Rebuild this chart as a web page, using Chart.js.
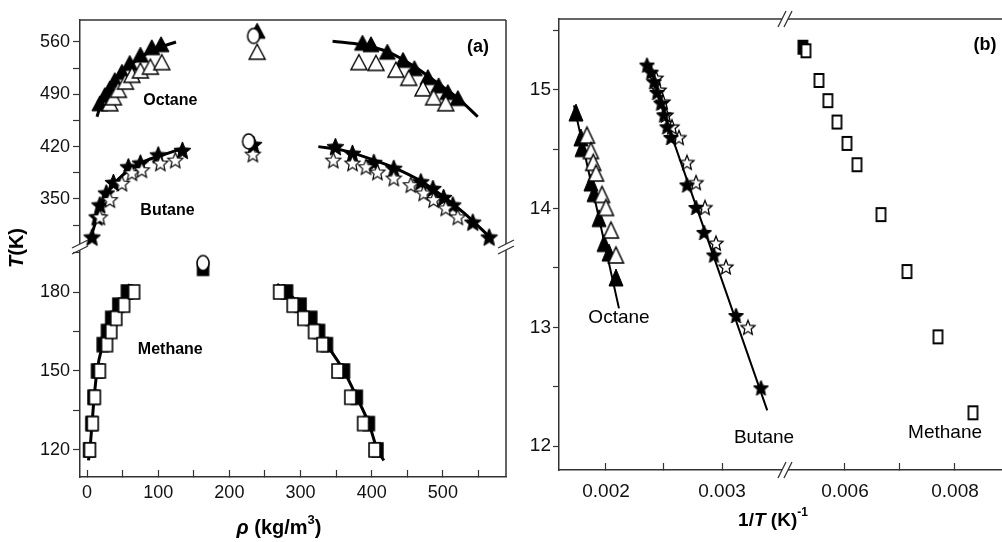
<!DOCTYPE html>
<html>
<head>
<meta charset="utf-8">
<script src="https://cdn.jsdelivr.net/npm/chart.js@4/dist/chart.umd.min.js"></script>
<style>
  html, body { margin: 0; padding: 0; background: #fff; overflow: hidden; width: 1002px; height: 542px; }
  #wrapA { position: absolute; left: 0; top: 0; }
  #wrapB { position: absolute; left: 500px; top: 0; }
</style>
</head>
<body>
<div id="wrapA"><canvas id="chartA" width="515" height="542"></canvas></div>
<div id="wrapB"><canvas id="chartB" width="520" height="542"></canvas></div>
<script>
// ---- Panel (a): density rho (kg/m3) vs T (K) ----
const octaneFilledA = [[18,478],[25,489],[32,498],[39,509],[49,520],[60,532],[75,543],[91,553],[104,557],
  [387,559],[399,557],[422,547],[444,536],[460,525],[479,513],[494,502],[507,493],[521,485]];
const octaneOpenA = [[32,478],[37,486],[44,496],[54,507],[63,516],[75,522],[89,527],[105,533],
  [382,533],[406,532],[434,523],[452,512],[472,498],[487,486],[504,478]];
const octaneFitLA = [[14,460],[18,472],[25,487],[35,503],[50,520],[70,536],[95,550],[125,560]];
const octaneFitRA = [[345,561],[387,556],[422,547],[460,527],[494,504],[521,485],[549,460]];

const butaneFilledA = [[7,299],[14,326],[18,342],[27,358],[37,372],[58,393],[75,398],[100,409],[134,415],
  [349,420],[373,411],[403,399],[431,391],[469,373],[486,364],[501,352],[514,342],[542,319],[565,299]];
const butaneOpenA = [[18,326],[32,349],[49,371],[63,385],[77,389],[103,398],[124,402],
  [346,402],[373,398],[392,393],[408,386],[431,378],[455,369],[473,358],[487,349],[504,338],[521,326]];
const butaneFitLA = [[4,294],[10,313],[18,336],[30,360],[50,382],[80,400],[110,410],[135,418]];
const butaneFitRA = [[325,420],[360,415],[403,402],[431,392],[469,374],[501,353],[530,331],[568,297]];

const methaneOpenA = [[4,120],[8,130],[11,140],[18,150],[28,160],[34,165],[41,170],[52,175],[66,180],
  [270,180],[289,175],[304,170],[319,165],[331,160],[352,150],[370,140],[388,130],[404,120]];
const methaneFilledA = [[3,120],[6,130],[9,140],[14,150],[22,160],[28,165],[34,170],[44,175],[56,180],
  [281,180],[300,175],[315,170],[326,165],[337,160],[361,150],[379,140],[396,130],[408,120]];
const methaneFitLA = [[2,116],[4,120],[7,130],[10,140],[14,150],[22,160],[28,165],[34,170],[44,175],[56,180],[60,183]];
const methaneFitRA = [[267,183],[281,180],[300,175],[315,170],[326,165],[337,160],[361,150],[379,140],[396,130],[408,120],[417,116]];

// critical points
const critCircleTopA = [[234,568],[227,427]];
const critCircleBotA = [[163,191]];
const critFilledTriA = [[239,575]];
const critOpenTriA = [[239,547]];
const critFilledStarA = [[234,423]];
const critOpenStarA = [[233,410]];
const critSquareA = [[163,189]];

const xTicksA = [0, 50, 100, 150, 200, 250, 300, 350, 400, 450, 500, 550];
const xLabelsA = [0, 100, 200, 300, 400, 500];
const yTopTicksA = [315, 350, 385, 420, 455, 490, 525, 560];
const yTopLabelsA = [350, 420, 490, 560];
const yBotTicksA = [120, 135, 150, 165, 180, 195];
const yBotLabelsA = [120, 150, 180];

// ---- Panel (b): 1/T vs ln ----
const octaneFilledB = [[0.001741,14.81],[0.001784,14.60],[0.001793,14.51],[0.00187,14.22],[0.001897,14.13],
  [0.00194,13.92],[0.001983,13.71],[0.002026,13.63],[0.002086,13.42]];
const octaneOpenB = [[0.001836,14.62],[0.00187,14.49],[0.00189,14.39],[0.001914,14.30],[0.001966,14.12],
  [0.002,14.01],[0.002043,13.82],[0.002086,13.61]];
const octaneFitB = [[0.001724,14.87],[0.002112,13.16]];
const butaneFilledB = [[0.002353,15.21],[0.002388,15.15],[0.002414,15.07],[0.00244,14.98],[0.002474,14.89],
  [0.0025,14.79],[0.002526,14.69],[0.00256,14.60],[0.002698,14.20],[0.002776,14.01],[0.002845,13.80],
  [0.00293,13.61],[0.003121,13.10],[0.003336,12.49]];
const butaneOpenB = [[0.002431,15.10],[0.002457,15.00],[0.002491,14.90],[0.002517,14.79],[0.002569,14.69],
  [0.002629,14.60],[0.002698,14.39],[0.002776,14.22],[0.002853,14.01],[0.002948,13.71],[0.003034,13.51],[0.003224,13.00]];
const butaneFitB = [[0.00235,15.22],[0.00339,12.30]];
const methaneOpenB = [[0.005291,15.33],[0.005527,15.08],[0.00569,14.91],[0.005855,14.73],[0.006036,14.55],
  [0.006218,14.37],[0.006655,13.95],[0.007127,13.47],[0.007691,12.92],[0.008327,12.28]];
const methaneFilledB = [[0.005236,15.36]];

const xLTicksB = [0.002, 0.0025, 0.003];
const xRTicksB = [0.006, 0.007, 0.008];
const xLabelsB = ['0.002', '0.003', '0.006', '0.008'];
const yTicksB = [12, 12.5, 13, 13.5, 14, 14.5, 15, 15.5];
const yLabelsB = [12, 13, 14, 15];

const FAM = "'Liberation Sans', Arial, sans-serif";
const INK = '#111';
const AXIS = '#333';

// build a small bitmap marker
function marker(shape, filled, w, h, lw) {
  const pad = Math.ceil(lw) + 1;
  const c = document.createElement('canvas');
  c.width = w + pad * 2;
  c.height = h + pad * 2;
  const g = c.getContext('2d');
  g.translate(pad, pad);
  g.beginPath();
  if (shape === 'tri') {
    g.moveTo(w / 2, 0); g.lineTo(w, h); g.lineTo(0, h); g.closePath();
  } else if (shape === 'rect') {
    g.rect(0, 0, w, h);
  } else if (shape === 'ellipse') {
    g.ellipse(w / 2, h / 2, w / 2, h / 2, 0, 0, Math.PI * 2);
  } else if (shape === 'star') {
    for (let i = 0; i < 10; i++) {
      const r = i % 2 ? 0.45 : 1;
      const a = -Math.PI / 2 + i * Math.PI / 5;
      const px = w / 2 + Math.cos(a) * r * w / 2 / 0.951;
      const py = h * 0.55 + Math.sin(a) * r * h * 0.55;
      if (i === 0) g.moveTo(px, py); else g.lineTo(px, py);
    }
    g.closePath();
  }
  g.fillStyle = filled ? '#000' : '#fff';
  g.fill();
  g.lineWidth = lw;
  g.lineJoin = 'miter';
  g.strokeStyle = '#000';
  g.stroke();
  return c;
}

const pts = arr => arr.map(p => ({ x: p[0], y: p[1] }));
const setTicks = list => s => { s.ticks = list.map(v => ({ value: v })); };
const sameNum = (a, b) => Math.abs(a - b) < 1e-9;

function points(data, style, axisY, axisX, order) {
  return { data: pts(data), pointStyle: style, pointRadius: 8, showLine: false,
    yAxisID: axisY, xAxisID: axisX, order: order, clip: false };
}
function fit(data, width, axisY, axisX, order) {
  return { data: pts(data), showLine: true, pointRadius: 0, borderColor: '#000', borderWidth: width,
    tension: 0.4, cubicInterpolationMode: 'monotone', yAxisID: axisY, xAxisID: axisX, order: order, clip: false };
}

// mixed-style text (italic symbols, superscripts)
function richText(ctx, parts, x, y, rotate) {
  ctx.save();
  ctx.translate(x, y);
  if (rotate) ctx.rotate(-Math.PI / 2);
  ctx.textBaseline = 'middle';
  ctx.textAlign = 'left';
  ctx.fillStyle = '#000';
  let total = 0;
  parts.forEach(p => { ctx.font = p.font; total += ctx.measureText(p.t).width; });
  let cx = -total / 2;
  parts.forEach(p => {
    ctx.font = p.font;
    ctx.fillText(p.t, cx, p.dy || 0);
    cx += ctx.measureText(p.t).width;
  });
  ctx.restore();
}

function breakMark(ctx, x, y, vertical) {
  // vertical === true: break on a vertical axis line
  ctx.save();
  ctx.strokeStyle = '#fff';
  ctx.lineWidth = 5;
  ctx.beginPath();
  if (vertical) { ctx.moveTo(x, y - 3); ctx.lineTo(x, y + 3); }
  else { ctx.moveTo(x - 3, y); ctx.lineTo(x + 3, y); }
  ctx.stroke();
  ctx.strokeStyle = AXIS;
  ctx.lineWidth = 1.3;
  ctx.beginPath();
  [-3, 3].forEach(d => {
    if (vertical) { ctx.moveTo(x - 8, y + d + 4); ctx.lineTo(x + 8, y + d - 4); }
    else { ctx.moveTo(x + d - 4, y + 8); ctx.lineTo(x + d + 4, y - 8); }
  });
  ctx.stroke();
  ctx.restore();
}

function noPad(s) { s.paddingLeft = 0; s.paddingRight = 0; s.paddingTop = 0; s.paddingBottom = 0; }

// ---------- Panel (a) ----------
const labelsA = [
  { text: 'Octane', x: 117, y: 482, axis: 'yTop' },
  { text: 'Butane', x: 113, y: 335, axis: 'yTop' },
  { text: 'Methane', x: 117, y: 158, axis: 'yBot' }
];

const decorA = {
  id: 'decorA',
  afterDraw(chart) {
    const ctx = chart.ctx;
    const a = chart.chartArea;
    const sx = chart.scales.x, yT = chart.scales.yTop, yB = chart.scales.yBot;
    ctx.save();
    ctx.strokeStyle = AXIS;
    ctx.lineWidth = 1.5;
    ctx.beginPath();
    ctx.moveTo(a.left, a.top); ctx.lineTo(a.right, a.top);
    ctx.moveTo(a.right, a.top); ctx.lineTo(a.right, a.bottom);
    ctx.stroke();
    ctx.restore();
    const split = (yT.bottom + yB.top) / 2;
    breakMark(ctx, a.left, split, true);
    breakMark(ctx, a.right, split, true);

    ctx.save();
    ctx.font = 'bold 16px ' + FAM;
    ctx.fillStyle = '#000';
    ctx.textAlign = 'center';
    ctx.textBaseline = 'middle';
    labelsA.forEach(l => {
      const ys = chart.scales[l.axis];
      ctx.fillText(l.text, sx.getPixelForValue(l.x), ys.getPixelForValue(l.y));
    });
    ctx.font = 'bold 18px ' + FAM;
    ctx.fillText('(a)', a.right - 28, a.top + 27);
    ctx.restore();

    const B = 'bold 20px ' + FAM, I = 'italic bold 20px ' + FAM;
    richText(ctx, [{ t: 'T', font: I }, { t: '(K)', font: B }], 17, 248, true);
    richText(ctx, [{ t: 'ρ', font: I }, { t: ' (kg/m', font: B }, { t: '3', font: 'bold 13px ' + FAM, dy: -8 }, { t: ')', font: B }], 279, 528, false);
  }
};

const F = {
  triF: marker('tri', true, 16, 15, 1),
  triO: marker('tri', false, 16, 15, 1.4),
  starF: marker('star', true, 17, 17, 1),
  starO: marker('star', false, 15, 15, 1.2),
  sqF: marker('rect', true, 11, 14, 1.5),
  sqO: marker('rect', false, 11, 14, 1.6),
  circO: marker('ellipse', false, 12, 15, 1.5),
  triFs: marker('tri', true, 14, 17, 1),
  triOs: marker('tri', false, 15, 16, 1.5),
  starFs: marker('star', true, 15, 15, 1),
  starOs: marker('star', false, 14, 14, 1.3),
  sqOs: marker('rect', false, 9, 13, 1.8),
  sqFs: marker('rect', true, 9, 13, 1.8)
};

const tickFontA = { family: FAM, size: 18 };

new Chart(document.getElementById('chartA'), {
  type: 'scatter',
  data: {
    datasets: [
      points(critCircleTopA, F.circO, 'yTop', 'x', 0),
      points(critCircleBotA, F.circO, 'yBot', 'x', 0),
      points(critFilledTriA, F.triF, 'yTop', 'x', 1),
      points(critOpenTriA, F.triO, 'yTop', 'x', 1),
      points(critFilledStarA, F.starF, 'yTop', 'x', 1),
      points(critOpenStarA, F.starO, 'yTop', 'x', 1),
      points(critSquareA, F.sqF, 'yBot', 'x', 1),
      points(octaneOpenA, F.triO, 'yTop', 'x', 2),
      points(butaneOpenA, F.starO, 'yTop', 'x', 2),
      points(methaneOpenA, F.sqO, 'yBot', 'x', 2),
      points(octaneFilledA, F.triF, 'yTop', 'x', 3),
      points(butaneFilledA, F.starF, 'yTop', 'x', 3),
      points(methaneFilledA, F.sqF, 'yBot', 'x', 3),
      fit(octaneFitLA, 3, 'yTop', 'x', 4),
      fit(octaneFitRA, 3, 'yTop', 'x', 4),
      fit(butaneFitLA, 3, 'yTop', 'x', 4),
      fit(butaneFitRA, 3, 'yTop', 'x', 4),
      fit(methaneFitLA, 3, 'yBot', 'x', 4),
      fit(methaneFitRA, 3, 'yBot', 'x', 4)
    ]
  },
  options: {
    responsive: false,
    animation: false,
    events: [],
    layout: { padding: { left: 0, right: 0, top: 20, bottom: 0 } },
    plugins: { legend: { display: false }, tooltip: { enabled: false } },
    scales: {
      x: {
        type: 'linear', axis: 'x', position: 'bottom', min: -9.9, max: 588.7,
        afterBuildTicks: setTicks(xTicksA),
        afterFit: s => { s.height = 65; noPad(s); },
        ticks: { autoSkip: false, maxRotation: 0, padding: 12, font: tickFontA, color: INK,
          callback: v => xLabelsA.includes(v) ? String(v) : '' },
        grid: { drawOnChartArea: false, tickLength: -7, tickColor: AXIS, tickWidth: 1.2 },
        border: { color: AXIS, width: 1.5 }
      },
      yTop: {
        type: 'linear', axis: 'y', position: 'left', stack: 'ya', stackWeight: 227, weight: 2,
        min: 285.7, max: 589.4,
        afterBuildTicks: setTicks(yTopTicksA),
        afterFit: s => { s.width = 80; noPad(s); },
        ticks: { autoSkip: false, padding: 3, font: tickFontA, color: INK,
          callback: v => yTopLabelsA.includes(v) ? String(v) : '' },
        grid: { drawOnChartArea: false, tickLength: 7, tickColor: AXIS, tickWidth: 1.2 },
        border: { color: AXIS, width: 1.5 }
      },
      yBot: {
        type: 'linear', axis: 'y', position: 'left', stack: 'ya', stackWeight: 230, weight: 1,
        min: 109.7, max: 197.1,
        afterBuildTicks: setTicks(yBotTicksA),
        afterFit: s => { s.width = 80; noPad(s); },
        ticks: { autoSkip: false, padding: 3, font: tickFontA, color: INK,
          callback: v => yBotLabelsA.includes(v) ? String(v) : '' },
        grid: { drawOnChartArea: false, tickLength: 7, tickColor: AXIS, tickWidth: 1.2 },
        border: { color: AXIS, width: 1.5 }
      }
    }
  },
  plugins: [decorA]
});

// ---------- Panel (b) ----------
const labelsB = [
  { text: 'Octane', x: 0.002112, y: 13.08, axis: 'xL' },
  { text: 'Butane', x: 0.003362, y: 12.07, axis: 'xL' },
  { text: 'Methane', x: 0.00782, y: 12.11, axis: 'xR' }
];

const decorB = {
  id: 'decorB',
  afterDraw(chart) {
    const ctx = chart.ctx;
    const a = chart.chartArea;
    const xL = chart.scales.xL, xR = chart.scales.xR, sy = chart.scales.y;
    ctx.save();
    ctx.strokeStyle = AXIS;
    ctx.lineWidth = 1.5;
    ctx.beginPath();
    ctx.moveTo(a.left, a.top); ctx.lineTo(chart.width, a.top);
    ctx.stroke();
    ctx.restore();
    const split = (xL.right + xR.left) / 2;
    breakMark(ctx, split, a.top, false);
    breakMark(ctx, split, a.bottom, false);

    ctx.save();
    ctx.font = '19px ' + FAM;
    ctx.fillStyle = '#000';
    ctx.textAlign = 'center';
    ctx.textBaseline = 'middle';
    labelsB.forEach(l => {
      const xs = chart.scales[l.axis];
      ctx.fillText(l.text, xs.getPixelForValue(l.x), sy.getPixelForValue(l.y));
    });
    ctx.font = 'bold 18px ' + FAM;
    ctx.fillText('(b)', 485, a.top + 26);
    ctx.restore();

    const B = 'bold 19px ' + FAM, I = 'italic bold 19px ' + FAM;
    richText(ctx, [{ t: '1/', font: B }, { t: 'T', font: I }, { t: ' (K)', font: B }, { t: '-1', font: 'bold 12px ' + FAM, dy: -8 }], 273, 521, false);
  }
};

const tickFontB = { family: FAM, size: 19 };
const xLabelB = v => { const s = v.toFixed(3); return xLabelsB.includes(s) && sameNum(+s, v) ? s : ''; };

new Chart(document.getElementById('chartB'), {
  type: 'scatter',
  data: {
    datasets: [
      points(octaneOpenB, F.triOs, 'y', 'xL', 1),
      points(butaneOpenB, F.starOs, 'y', 'xL', 2),
      points(methaneOpenB, F.sqOs, 'y', 'xR', 1),
      points(octaneFilledB, F.triFs, 'y', 'xL', 3),
      points(butaneFilledB, F.starFs, 'y', 'xL', 1),
      points(methaneFilledB, F.sqFs, 'y', 'xR', 3),
      fit(octaneFitB, 2, 'y', 'xL', 4),
      fit(butaneFitB, 2, 'y', 'xL', 4)
    ]
  },
  options: {
    responsive: false,
    animation: false,
    events: [],
    layout: { padding: { left: 0, right: 10, top: 19, bottom: 0 } },
    plugins: { legend: { display: false }, tooltip: { enabled: false } },
    scales: {
      xL: {
        type: 'linear', axis: 'x', position: 'bottom', stack: 'xb', stackWeight: 226, weight: 1,
        min: 0.001595, max: 0.003543,
        afterBuildTicks: setTicks(xLTicksB),
        afterFit: s => { s.height = 72; noPad(s); },
        ticks: { autoSkip: false, maxRotation: 0, padding: 17, font: tickFontB, color: INK, callback: xLabelB },
        grid: { drawOnChartArea: false, tickLength: -7, tickWidth: 1.2, tickColor: AXIS },
        border: { color: AXIS, width: 1.5 }
      },
      xR: {
        type: 'linear', axis: 'x', position: 'bottom', stack: 'xb', stackWeight: 225, weight: 2,
        min: 0.00491, max: 0.009,
        afterBuildTicks: setTicks(xRTicksB),
        afterFit: s => { s.height = 72; noPad(s); },
        ticks: { autoSkip: false, maxRotation: 0, padding: 17, font: tickFontB, color: INK, callback: xLabelB },
        grid: { drawOnChartArea: false, tickLength: -7, tickWidth: 1.2, tickColor: AXIS },
        border: { color: AXIS, width: 1.5 }
      },
      y: {
        type: 'linear', axis: 'y', position: 'left', min: 11.798, max: 15.598,
        afterBuildTicks: setTicks(yTicksB),
        afterFit: s => { s.width = 59; noPad(s); },
        ticks: { autoSkip: false, padding: 2, font: tickFontB, color: INK,
          callback: v => yLabelsB.some(t => sameNum(t, v)) ? String(v) : '' },
        grid: { drawOnChartArea: false, tickLength: 6, tickColor: AXIS, tickWidth: 1.2 },
        border: { color: AXIS, width: 1.5 }
      }
    }
  },
  plugins: [decorB]
});
</script>
</body>
</html>
